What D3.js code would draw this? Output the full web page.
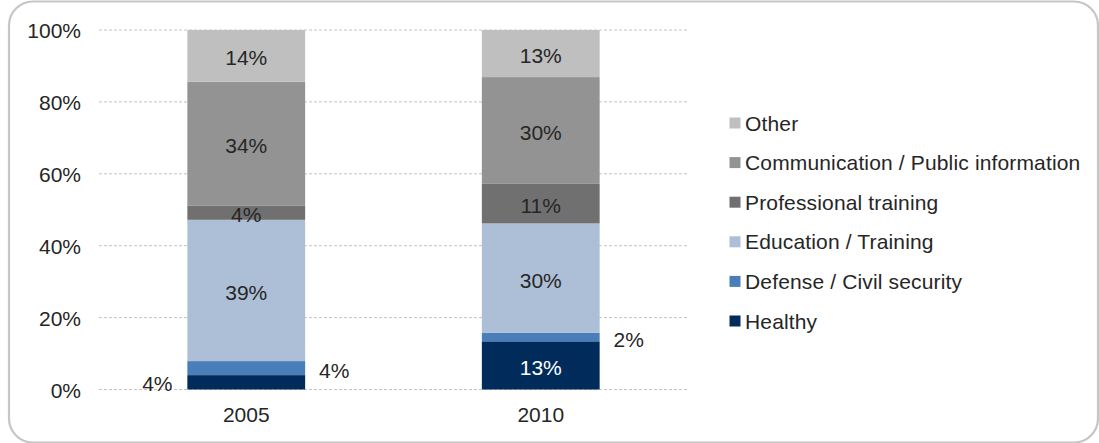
<!DOCTYPE html>
<html><head><meta charset="utf-8">
<script src="https://cdn.jsdelivr.net/npm/d3@7"></script>
<style>body{margin:0;background:#fff}svg{display:block;font-family:"Liberation Sans",Arial,sans-serif}</style>
</head><body><svg id="c" width="1099" height="443"></svg>
<script>
const years = ["2005", "2010"];
const seriesNames = ["Healthy", "Defense / Civil security", "Education / Training", "Professional training", "Communication / Public information", "Other"];
const healthy = [4.0, 13.4];
const defense = [3.9, 2.4];
const education = [39.3, 30.4];
const professional = [4.0, 11.0];
const communication = [34.4, 29.7];
const other = [14.4, 13.1];
const yTicks = [0, 20, 40, 60, 80, 100];
const colors = ["#002b5a", "#4a7ebb", "#adbfd6", "#707070", "#939393", "#bfbfbf"];
const labelColors = ["#ffffff", "#262626", "#262626", "#262626", "#262626", "#262626"];

const FS = 21;
const seriesVals = [healthy, defense, education, professional, communication, other];
const rows = years.map((y, i) => {
  const r = {year: y};
  seriesNames.forEach((s, k) => r[s] = seriesVals[k][i]);
  return r;
});
const stack = d3.stack().keys(seriesNames)(rows);

const svg = d3.select("#c");
svg.append("rect").attr("x", 9).attr("y", 1.5).attr("width", 1089).attr("height", 441)
  .attr("rx", 24).attr("fill", "none").attr("stroke", "#c6c6c6").attr("stroke-width", 2.2);

const x = d3.scaleBand().domain(years).range([99, 688]).paddingInner(0.6).paddingOuter(0.3);
const y = d3.scaleLinear().domain([0, 100]).range([389.5, 30]);

// grid
svg.append("g").selectAll("line").data(yTicks).join("line")
  .attr("x1", 99).attr("x2", 688).attr("y1", d => y(d)).attr("y2", d => y(d))
  .attr("stroke", "#c4c4c4").attr("stroke-width", 1).attr("stroke-dasharray", "3,2");

// y axis labels
const ya = svg.append("g").attr("transform", "translate(81,0)")
  .call(d3.axisLeft(y).tickValues(yTicks).tickFormat(d => d + "%").tickSize(0).tickPadding(0));
ya.select(".domain").remove();
ya.selectAll("text").attr("font-size", FS).attr("fill", "#262626").attr("font-family", "Liberation Sans, Arial, sans-serif").attr("dy", "0.36em");

// x axis labels
const xa = svg.append("g").attr("transform", "translate(0,389.5)")
  .call(d3.axisBottom(x).tickSize(0).tickPadding(18));
xa.select(".domain").remove();
xa.selectAll("text").attr("font-size", FS).attr("fill", "#262626").attr("font-family", "Liberation Sans, Arial, sans-serif");

// bars
const g = svg.append("g");
stack.forEach((layer, k) => {
  g.selectAll(null).data(layer).join("rect")
    .attr("x", d => x(d.data.year)).attr("width", x.bandwidth())
    .attr("y", d => y(d[1])).attr("height", d => y(d[0]) - y(d[1]))
    .attr("fill", colors[k]);
});

// labels
const fmt = v => Math.round(v) + "%";
stack.forEach((layer, k) => {
  layer.forEach((d, i) => {
    const v = d[1] - d[0];
    let lx = x(d.data.year) + x.bandwidth() / 2, ly = (y(d[0]) + y(d[1])) / 2 + 2, fill = labelColors[k];
    if (v < 4.2 && k === 0) { lx = x(d.data.year) - 30; ly = y(d[0]) - 6.5; fill = "#262626"; }
    else if (v < 4.2 && k === 1) { lx = x(d.data.year) + x.bandwidth() + 29; ly = (y(d[0]) + y(d[1])) / 2 + 2; fill = "#262626"; }
    g.append("text").attr("x", lx).attr("y", ly).attr("dy", "0.36em").attr("text-anchor", "middle")
      .attr("font-size", FS).attr("fill", fill).text(fmt(v));
  });
});

// legend
const legendOrder = seriesNames.map((s, k) => ({s, k})).reverse();
const lg = svg.append("g");
const ly0 = 123, lstep = 39.6;
legendOrder.forEach((d, i) => {
  const cy = ly0 + i * lstep;
  lg.append("rect").attr("x", 729.5).attr("y", cy - 5.5).attr("width", 11).attr("height", 11).attr("fill", colors[d.k]);
  lg.append("text").attr("x", 745).attr("y", cy).attr("dy", "0.36em").attr("font-size", FS)
    .attr("letter-spacing", 0.15).attr("fill", "#262626").text(d.s);
});
</script></body></html>
